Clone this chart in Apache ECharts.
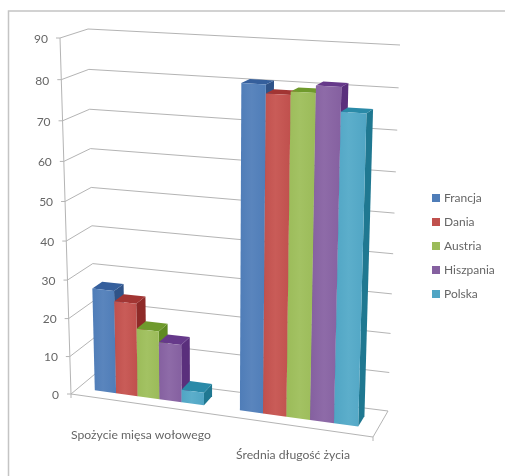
<!DOCTYPE html>
<html><head><meta charset="utf-8">
<style>html,body{margin:0;padding:0;background:#fff}#c{width:505px;height:476px}</style>
<script src="https://cdn.jsdelivr.net/npm/echarts@6/dist/echarts.min.js"></script>
</head><body><div id="c"></div>
<script>
const categories = ['Spożycie mięsa wołowego', 'Średnia długość życia'];
const francja = [27, 80.8];
const dania = [24.3, 78.7];
const austria = [17.8, 79.5];
const hiszpania = [15, 81.2];
const polska = [3.3, 75.5];
const yTicks = [0, 10, 20, 30, 40, 50, 60, 70, 80, 90];
const seriesNames = ['Francja', 'Dania', 'Austria', 'Hiszpania', 'Polska'];
const seriesValues = [francja, dania, austria, hiszpania, polska];
const faceColors = ['#4F7DB8', '#C0504D', '#9BBB59', '#8560A0', '#50A5C4'];
const lightColors = ['#5A85BD', '#C95C58', '#A3C263', '#8E6BA8', '#5CAECB'];
const sideColors = ['#2F5388', '#8E2A28', '#5F8A22', '#5A2F7C', '#1F7891'];
const topColors = ['#355F9C', '#A23533', '#6F9A2C', '#66398A', '#2A8AA8'];

// 3D view of the unit box: x along categories, y along values, z into the page
const box = {
  flb: [71, 394], flt: [60, 38], blb: [95, 374], blt: [88, 29],
  frb: [373, 437], frt: [384, 53], brb: [388, 411], brt: [400, 45]
};
const lerp = (a, b, t) => [a[0] + (b[0] - a[0]) * t, a[1] + (b[1] - a[1]) * t];
function project(t, v, z) {
  const u = t - 0.08 * t * (1 - t);
  const f = v - 0.06 * v * (1 - v);
  const fb = lerp(lerp(box.flb, box.frb, u), lerp(box.flt, box.frt, u), f);
  const bk = lerp(lerp(box.blb, box.brb, u), lerp(box.blt, box.brt, u), f);
  return lerp(fb, bk, z);
}
const Z0 = 0.3, Z1 = 0.7, BAND_MARGIN = 0.12;
const gray = '#B4B4B4', textGray = '#666666', font = 'Lato';
const labelOffsets = [[-1, 31], [0, 29]];

function normV(params, api, val) {
  const c = params.coordSys;
  return (c.y + c.height - api.coord([0, val])[1]) / c.height;
}
function line(a, b, color) {
  return { type: 'line', shape: { x1: a[0], y1: a[1], x2: b[0], y2: b[1] }, style: { stroke: color || gray, lineWidth: 1 }, silent: true };
}
function poly(points, fill) {
  return { type: 'polygon', shape: { points }, style: { fill, stroke: null } };
}

function renderWalls(params, api) {
  const tick = api.value(0), v = normV(params, api, tick);
  const front = project(0, v, 0), back = project(0, v, 1), right = project(1, v, 1);
  const children = [line(front, back), line(back, right), line(front, [front[0] - 4, front[1]])];
  children.push({ type: 'text', x: front[0] - 12, y: front[1] + 1, style: { text: String(tick), align: 'right', verticalAlign: 'middle', fill: textGray, font: '12px ' + font } });
  if (tick === 0) {
    const fr = project(1, 0, 0);
    children.push(line(front, fr), line(fr, right), line(front, project(0, 1, 0)), line(fr, [fr[0], fr[1] + 4]), line(front, [front[0], front[1] + 4]));
  }
  return { type: 'group', children };
}

function renderLabels(params, api) {
  const c = params.coordSys;
  const t = (api.coord([api.value(0), 0])[0] - c.x) / c.width;
  const p = project(t, 0, 0);
  const off = labelOffsets[params.dataIndex];
  return { type: 'text', x: p[0] + off[0], y: p[1] + off[1],
    style: { text: categories[params.dataIndex], align: 'center', verticalAlign: 'middle', fill: textGray, font: '12.2px ' + font } };
}

function renderBar(sIdx) {
  return function (params, api) {
    const c = params.coordSys;
    const band = api.size([1, 0])[0];
    const cx = api.coord([api.value(0), 0])[0];
    const barW = band * (1 - 2 * BAND_MARGIN) / seriesNames.length;
    const x0 = cx - band / 2 + band * BAND_MARGIN + sIdx * barW;
    const t0 = (x0 - c.x) / c.width, t1 = (x0 + barW - c.x) / c.width;
    const v = normV(params, api, api.value(1));
    const P = project;
    const front = [P(t0, 0, Z0), P(t1, 0, Z0), P(t1, v, Z0), P(t0, v, Z0)];
    const side = [P(t1, 0, Z0), P(t1, 0, Z1), P(t1, v, Z1), P(t1, v, Z0)];
    const top = [P(t0, v, Z0), P(t1, v, Z0), P(t1, v, Z1), P(t0, v, Z1)];
    const grad = new echarts.graphic.LinearGradient(0, 0, 1, 0, [
      { offset: 0, color: faceColors[sIdx] }, { offset: 0.45, color: lightColors[sIdx] }, { offset: 1, color: faceColors[sIdx] }
    ]);
    return { type: 'group', children: [poly(side, sideColors[sIdx]), poly(top, topColors[sIdx]), poly(front, grad)] };
  };
}

const chart = echarts.init(document.getElementById('c'), null, { renderer: 'canvas' });
chart.setOption({
  animation: false,
  backgroundColor: '#fff',
  grid: { left: 60, right: 100, top: 30, bottom: 30 },
  xAxis: { type: 'category', data: categories, show: false },
  yAxis: { type: 'value', min: 0, max: 90, interval: 10, show: false },
  legend: {
    orient: 'vertical', left: 427, top: 186, itemWidth: 8, itemHeight: 8, itemGap: 10,
    icon: 'rect', selectedMode: false, data: seriesNames,
    textStyle: { color: textGray, fontFamily: font, fontSize: 12, padding: [0, 0, 0, -1], lineHeight: 14 }
  },
  graphic: [{ type: 'polyline', z: -1, shape: { points: [[8.5, 476], [8.5, 11], [505, 11]] }, style: { fill: null, stroke: '#C4C4C4', lineWidth: 1.5 }, silent: true }],
  series: [
    { type: 'custom', name: 'walls', silent: true, z: 1, renderItem: renderWalls, clip: false,
      encode: { y: 0 }, data: yTicks.map(t => [t]) },
    { type: 'custom', name: 'labels', silent: true, z: 1, renderItem: renderLabels, clip: false,
      encode: { x: 0 }, data: categories.map((c, i) => [i]) },
    ...seriesNames.map((name, i) => ({
      type: 'custom', name, z: 2 + i, clip: false, renderItem: renderBar(i),
      itemStyle: { color: faceColors[i] }, encode: { x: 0, y: 1 },
      data: seriesValues[i].map((v, k) => [k, v])
    }))
  ]
});
</script></body></html>
